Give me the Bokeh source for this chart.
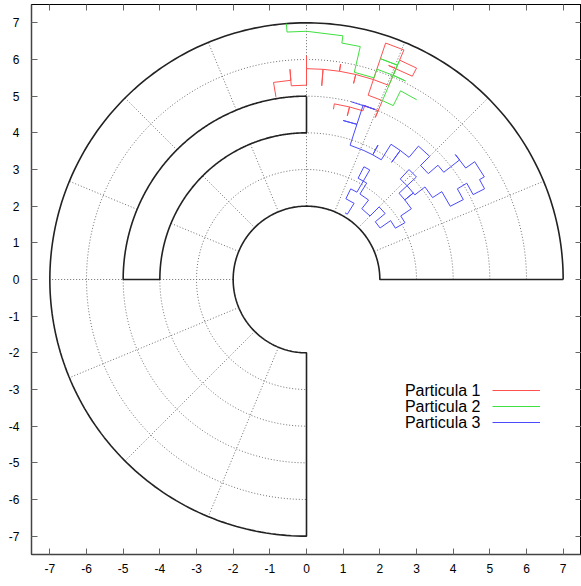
import numpy as np
from bokeh.plotting import figure
from bokeh.models import Range1d, LinearAxis, FixedTicker, Legend, LegendItem, Label
from bokeh.embed import file_html
from bokeh.resources import INLINE

# ---------------- data ----------------
tick_values = [-7, -6, -5, -4, -3, -2, -1, 0, 1, 2, 3, 4, 5, 6, 7]
tick_labels = ["-7", "-6", "-5", "-4", "-3", "-2", "-1", "0", "1", "2", "3", "4", "5", "6", "7"]

r_outer = 7.0
r_inner = 2.0
domain_theta = [0.0, 270.0]
obstacle_r = [4.0, 5.0]
obstacle_theta = [90.0, 180.0]
grid_radii = [3, 4, 5, 6]
grid_angles = [0, 22.5, 45, 67.5, 90, 112.5, 135, 157.5, 180, 202.5, 225, 247.5, 270]

series_names = ["Particula 1", "Particula 2", "Particula 3"]

# particle walks (radius, angle in degrees)
red_r = [5.05, 5.45, 5.45, 5.75, 5.3, 5.3, 6.1, 5.75, 5.75, 5.3, 5.75, 5.75, 5.95, 5.75,
         5.75, 5.5, 5.75, 5.75, 6.8, 6.8, 6.5, 6.5, 6.25, 6.25, 6.25, 5.75, 5.75, 5.3,
         5.3, 4.8, 5.0, 5.0, 4.85, 4.85, 4.6, 4.85, 4.85, 4.7]
red_t = [99.5, 99.5, 94.5, 94.5, 94.5, 90, 90, 90, 85.5, 85.5, 85.5, 81, 81, 81,
         76.5, 76.5, 76.5, 71.5, 71.5, 67, 67, 62.5, 62.5, 69, 67, 67, 71.5, 71.5,
         67, 67, 67, 71.5, 71.5, 76, 76, 76, 81, 81]

green_r = [7.0, 6.77, 6.77, 6.72, 6.52, 6.52, 5.8, 5.8, 6.05, 6.05, 6.05, 6.05, 6.35, 6.35,
           6.35, 6.5, 5.3, 5.3, 5.75, 5.75]
green_t = [94.5, 94.5, 90, 81.5, 81.5, 77, 77, 71.5, 71.5, 67, 63.5, 67, 67, 71.5,
           67, 67, 67, 63.5, 63.5, 58.5]

blue_r = [5.0, 5.0, 5.0, 4.45, 4.45, 4.45, 3.85, 3.85, 3.85, 4.15, 3.85, 3.85, 4.35, 4.35,
          3.95, 4.35, 4.35, 4.75, 4.75, 4.4, 4.4, 4.75, 4.75, 5.3, 5.3, 5.3, 5.6, 5.6,
          5.45, 5.45, 5.1, 5.1, 4.8, 4.8, 4.4, 4.4, 4.1, 4.1, 3.75, 3.75, 4.1, 4.1,
          3.75, 3.75, 3.45, 3.45, 3.75, 3.45, 3.45, 3.1, 3.1, 2.8, 2.8, 2.45, 2.45,
          2.8, 2.8, 2.45, 2.45, 2.75, 2.75, 3.1, 3.1, 3.45, 3.45, 3.1, 2.75, 2.75,
          2.45, 2.45, 2.1, 2.1]
blue_t = [76, 68, 72, 72, 77, 72, 72, 66, 62, 62, 62, 58, 58, 54,
          54, 54, 50, 50, 45, 45, 41, 41, 38, 38, 40, 35, 35, 30,
          30, 27, 27, 31, 31, 27, 27, 33, 33, 38, 38, 43, 43, 47,
          47, 43, 43, 39, 39, 39, 34, 34, 30, 30, 35, 35, 40,
          40, 45, 45, 52, 52, 58, 58, 63, 63, 60, 60, 60, 64,
          64, 58, 58, 60]

# ---------------- helpers ----------------
def arc(r, t0, t1, n=240):
    t = np.radians(np.linspace(t0, t1, n))
    return r * np.cos(t), r * np.sin(t)

def polar(r, t):
    r = np.asarray(r, float)
    t = np.radians(np.asarray(t, float))
    return r * np.cos(t), r * np.sin(t)

# ---------------- figure ----------------
p = figure(width=581, height=582, x_range=Range1d(-7.5, 7.5), y_range=Range1d(-7.5, 7.5),
           output_backend="svg", toolbar_location=None,
           min_border_left=31, min_border_right=0, min_border_top=4, min_border_bottom=28)
p.xgrid.visible = False
p.ygrid.visible = False
p.outline_line_color = "black"
p.outline_line_width = 1
p.background_fill_color = "white"

# grid (dotted) inside the domain
gx, gy = [], []
for r in grid_radii:
    if r in obstacle_r:
        for (a0, a1) in [(domain_theta[0], obstacle_theta[0]), (obstacle_theta[1], domain_theta[1])]:
            x, y = arc(r, a0, a1)
            gx.append(x); gy.append(y)
    else:
        x, y = arc(r, domain_theta[0], domain_theta[1])
        gx.append(x); gy.append(y)
for a in grid_angles:
    if obstacle_theta[0] < a < obstacle_theta[1]:
        segs = [(r_inner, obstacle_r[0]), (obstacle_r[1], r_outer)]
    else:
        segs = [(r_inner, r_outer)]
    for (ra, rb) in segs:
        x, y = polar([ra, rb], [a, a])
        gx.append(x); gy.append(y)
p.multi_line(gx, gy, line_color="#6e6e6e", line_width=1, line_dash="1 2")

# boundaries
ox, oy = arc(r_outer, domain_theta[0], domain_theta[1])
ix, iy = arc(r_inner, domain_theta[1], domain_theta[0])
bx = np.concatenate([ox, ix, [r_outer]])
by = np.concatenate([oy, iy, [0.0]])
p.line(bx, by, line_color="#222222", line_width=1.6)
o5x, o5y = arc(obstacle_r[1], obstacle_theta[0], obstacle_theta[1])
o4x, o4y = arc(obstacle_r[0], obstacle_theta[1], obstacle_theta[0])
p.line(np.concatenate([o5x, o4x, o5x[:1]]), np.concatenate([o5y, o4y, o5y[:1]]),
       line_color="#222222", line_width=1.6)

# particles
colors = ["#ff5050", "#40e040", "#4a4aff"]
renderers = []
for (rr, tt), c in zip([(red_r, red_t), (green_r, green_t), (blue_r, blue_t)], colors):
    x, y = polar(rr, tt)
    renderers.append(p.line(x, y, line_color=c, line_width=1))

# axes
for ax in [p.xaxis[0], p.yaxis[0]]:
    ax.ticker = FixedTicker(ticks=tick_values)
    ax.major_label_overrides = {v: s for v, s in zip(tick_values, tick_labels)}
    ax.major_tick_in = 6
    ax.major_tick_out = 0
    ax.minor_tick_line_color = None
    ax.axis_line_color = "#444444"
    ax.axis_line_width = 1.5
    ax.major_tick_line_color = "#666666"
    ax.major_label_text_font = "Liberation Sans"
    ax.major_label_text_font_size = "12px"
    ax.major_label_text_color = "black"
p.xaxis[0].major_label_standoff = 9
p.yaxis[0].major_label_standoff = 12

for loc in ["above", "right"]:
    ax = LinearAxis(ticker=FixedTicker(ticks=tick_values), major_tick_in=6, major_tick_out=0,
                    minor_tick_line_color=None, axis_line_color="black", axis_line_width=1,
                    major_tick_line_color="#666666", major_label_text_font_size="0px",
                    major_label_standoff=0)
    ax.major_label_overrides = {v: "" for v in tick_values}
    p.add_layout(ax, loc)

# legend: samples via Legend, texts via Labels on the left
legend = Legend(items=[LegendItem(label=" ", renderers=[r]) for r in renderers],
                location=(461, 124), orientation="vertical",
                glyph_width=48, glyph_height=16, label_height=16, label_width=1,
                label_standoff=0, spacing=0, padding=0, margin=0,
                border_line_color=None, background_fill_alpha=0,
                label_text_font_size="1px")
p.add_layout(legend, "center")
for i, name in enumerate(series_names):
    p.add_layout(Label(x=449, y=550 - 386 - 16 * i, x_units="screen", y_units="screen",
                       text=name, text_align="right", text_baseline="middle",
                       text_font="Liberation Sans", text_font_size="16px", text_color="black"))

open("out.html", "w").write(file_html(p, INLINE))
